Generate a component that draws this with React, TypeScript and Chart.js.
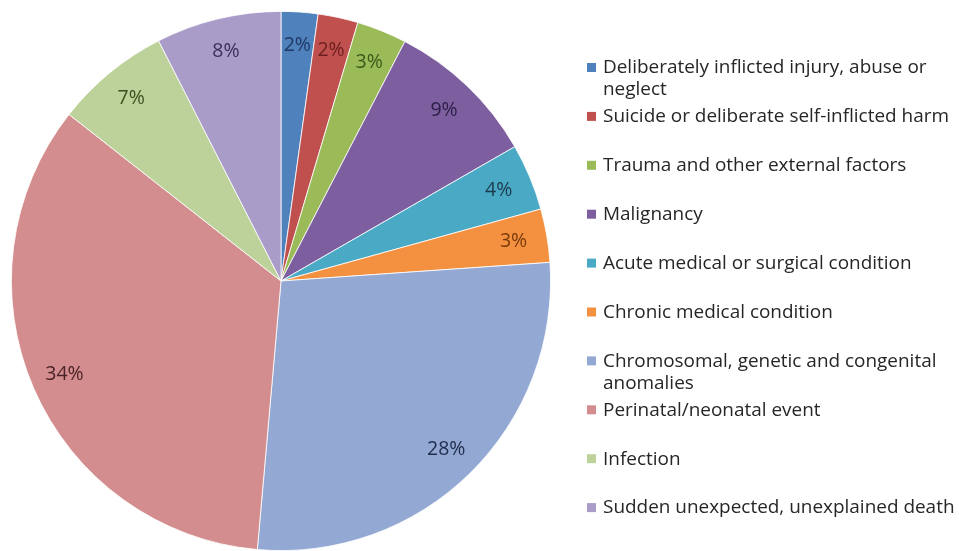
import React, { useEffect, useRef } from "react";
import { Chart, registerables } from "chart.js";

Chart.register(...registerables);

const categories: string[][] = [
  ["Deliberately inflicted injury, abuse or", "neglect"],
  ["Suicide or deliberate self-inflicted harm"],
  ["Trauma and other external factors"],
  ["Malignancy"],
  ["Acute medical or surgical condition"],
  ["Chronic medical condition"],
  ["Chromosomal, genetic and congenital", "anomalies"],
  ["Perinatal/neonatal event"],
  ["Infection"],
  ["Sudden unexpected, unexplained death"],
];

const shares: number[] = [2.2, 2.4, 3.0, 9.1, 4.0, 3.2, 27.5, 34.2, 6.9, 7.5];

const sliceColors: string[] = [
  "#4F81BD", "#C0504D", "#9BBB59", "#7D5FA0", "#4AAAC6",
  "#F39140", "#93A9D3", "#D48D8E", "#BDD29B", "#A99CC9",
];

const labelColors: string[] = [
  "#1F3864", "#6B1F1F", "#3B5A1A", "#2A1E45", "#1B3A4A",
  "#7A3A0A", "#1F2B4A", "#4A2328", "#3B4F20", "#3C2F5C",
];

const FONT = "'Open Sans', Lato, sans-serif";

const pieLabelPlugin = {
  id: "pieLabels",
  afterDatasetsDraw(chart: any) {
    const ctx = chart.ctx;
    const meta = chart.getDatasetMeta(0);
    const data = chart.data.datasets[0].data as number[];
    const total = data.reduce((a, b) => a + b, 0);
    ctx.save();
    ctx.font = `19.5px ${FONT}`;
    ctx.textAlign = "center";
    ctx.textBaseline = "middle";
    meta.data.forEach((arc: any, i: number) => {
      const { x, y, startAngle, endAngle, outerRadius } = arc.getProps(
        ["x", "y", "startAngle", "endAngle", "outerRadius"],
        true
      );
      const mid = (startAngle + endAngle) / 2;
      const r = outerRadius * 0.875;
      const pct = Math.round((data[i] / total) * 100);
      ctx.fillStyle = labelColors[i];
      ctx.fillText(`${pct}%`, x + Math.cos(mid) * r, y + Math.sin(mid) * r);
    });
    ctx.restore();
  },
};

const legendPlugin = {
  id: "sideLegend",
  afterDraw(chart: any) {
    const ctx = chart.ctx;
    const boxX = 587;
    const textX = 603;
    const firstY = 68;
    const step = 48.9;
    const lineH = 22;
    ctx.save();
    ctx.font = `17px ${FONT}`;
    let widest = 0;
    categories.forEach((lines) =>
      lines.forEach((t) => (widest = Math.max(widest, ctx.measureText(t).width)))
    );
    const size = (17 * 352) / widest;
    ctx.font = `${size.toFixed(2)}px ${FONT}`;
    ctx.textAlign = "left";
    ctx.textBaseline = "middle";
    categories.forEach((lines, i) => {
      const cy = firstY + i * step;
      ctx.fillStyle = sliceColors[i];
      ctx.fillRect(boxX, cy - 5, 9, 9);
      ctx.fillStyle = "#262626";
      lines.forEach((t, j) => ctx.fillText(t, textX, cy + j * lineH));
    });
    ctx.restore();
  },
};

export default function App() {
  const ref = useRef<HTMLCanvasElement | null>(null);
  useEffect(() => {
    if (!ref.current) return;
    const chart = new Chart(ref.current, {
      type: "pie",
      data: {
        labels: categories.map((c) => c.join(" ")),
        datasets: [
          {
            data: shares,
            backgroundColor: sliceColors,
            borderColor: "#ffffff",
            borderWidth: 0.8,
          },
        ],
      },
      options: {
        responsive: false,
        animation: false,
        rotation: 0,
        layout: { padding: { left: 11, top: 11, right: 408, bottom: 0 } },
        plugins: {
          legend: { display: false },
          tooltip: { enabled: false },
        },
      },
      plugins: [pieLabelPlugin, legendPlugin],
    });
    return () => chart.destroy();
  }, []);
  return (
    <div style={{ position: "absolute", left: 0, top: 0, width: 959, height: 551, background: "#ffffff" }}>
      <canvas ref={ref} width={959} height={551} style={{ display: "block" }} />
    </div>
  );
}
